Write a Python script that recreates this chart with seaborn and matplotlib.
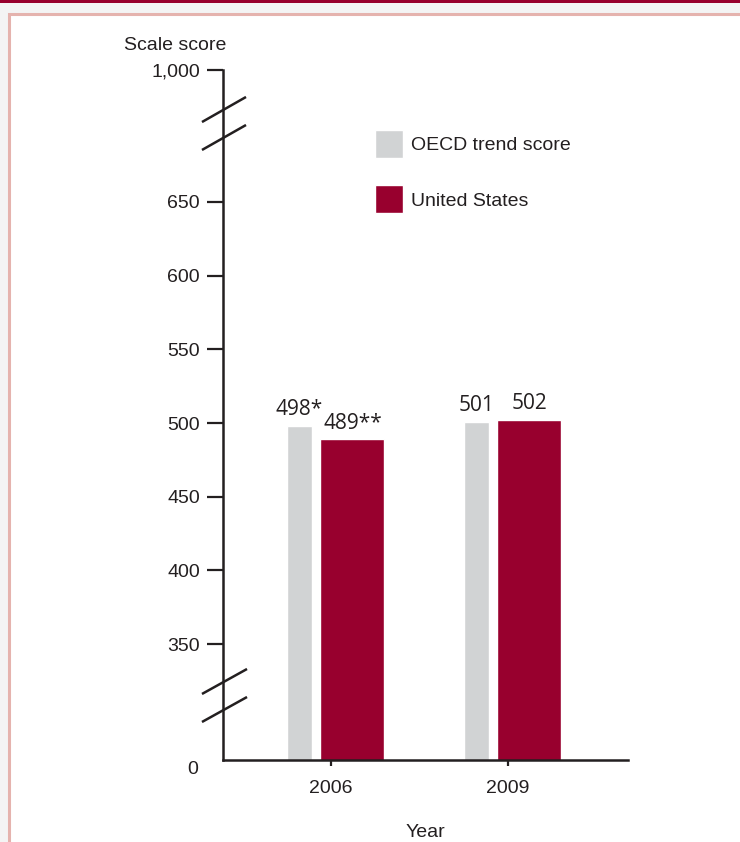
import numpy as np
import pandas as pd
import matplotlib
matplotlib.use("Agg")
import matplotlib.pyplot as plt
from matplotlib.patches import Rectangle
from matplotlib.transforms import ScaledTranslation
import seaborn as sns

# ---- data ----
years = ["2006", "2009"]
oecd_scores = [498, 501]
us_scores = [489, 502]
oecd_labels = ["498*", "501"]
us_labels = ["489**", "502"]
series_names = ["OECD trend score", "United States"]
ytick_values = [350, 400, 450, 500, 550, 600, 650]

# ---- style ----
GRAY = "#d1d3d4"
RED = "#98002e"
INK = "#231f20"
NARROW = ["Liberation Sans Narrow", "Liberation Sans", "DejaVu Sans"]
VALFONT = ["Open Sans", "DejaVu Sans"]
FS = 14

sns.set_theme(style="white")
plt.rcParams["font.family"] = NARROW
plt.rcParams["text.color"] = INK
plt.rcParams["axes.labelcolor"] = INK
plt.rcParams["xtick.color"] = INK
plt.rcParams["ytick.color"] = INK

W, H = 740, 842
fig = plt.figure(figsize=(W / 100, H / 100), dpi=100, facecolor="#f4f4f4")

# page frame (drawn beneath the axes)
fig.patches.append(Rectangle((0, 1 - 2.5 / H), 1, 2.5 / H, transform=fig.transFigure,
                             facecolor=RED, edgecolor="none", zorder=-10))
fig.patches.append(Rectangle((8.5 / W, -0.05), 1.1, 1 - 13.5 / H + 0.05, transform=fig.transFigure,
                             facecolor="white", edgecolor="#e5b3ae", linewidth=2.2, zorder=-10))

# axes box in pixels: x 223..628, y 70..760
ax = fig.add_axes([223 / W, 1 - 760 / H, 405 / W, 690 / H])
ax.set_zorder(5)
ax.set_facecolor("none")

idx = np.arange(len(years))
df_oecd = pd.DataFrame({"pos": idx - 0.178, "score": oecd_scores})
df_us = pd.DataFrame({"pos": idx + 0.121, "score": us_scores})

sns.barplot(data=df_oecd, x="pos", y="score", native_scale=True, width=0.14,
            color=GRAY, saturation=1, label=series_names[0], ax=ax, errorbar=None)
sns.barplot(data=df_us, x="pos", y="score", native_scale=True, width=0.362,
            color=RED, saturation=1, label=series_names[1], ax=ax, errorbar=None)

# value labels
for cont, labs in zip(ax.containers, [oecd_labels, us_labels]):
    ax.bar_label(cont, labels=labs, padding=4, fontsize=15, family=VALFONT, color=INK)

# broken scale: 0 sits at the bottom, 1,000 at the top
y_bottom = 350 - (760 - 644) / (442 / 300)
y_top = 650 + (202 - 70) / (442 / 300)
ax.set_ylim(y_bottom, y_top)
ax.set_xlim(-0.61, 1.678)

ax.set_yticks([y_bottom] + ytick_values + [y_top])
ax.set_yticklabels(["0"] + [str(v) for v in ytick_values] + ["1,000"])
ax.tick_params(axis="y", left=True, direction="out", length=11.5, width=1.6, pad=5, labelsize=FS)
ax.tick_params(axis="x", bottom=True, direction="out", length=4.5, width=1.6, pad=10, labelsize=FS)
ax.set_xticks(idx)
ax.set_xticklabels(years)

# the "0" label: no tick mark, shifted down a little
ticks = ax.yaxis.get_major_ticks()
ticks[0].tick1line.set_visible(False)
lab0 = ticks[0].label1
lab0.set_transform(lab0.get_transform() + ScaledTranslation(-2 / 100, -7 / 100, fig.dpi_scale_trans))

for side in ["top", "right"]:
    ax.spines[side].set_visible(False)
for side in ["left", "bottom"]:
    ax.spines[side].set_color(INK)
    ax.spines[side].set_linewidth(1.8)

ax.set_xlabel("Year", fontsize=FS, labelpad=19)
ax.set_ylabel("Scale score", fontsize=FS, rotation=0, ha="center", va="center")
ax.yaxis.set_label_coords(-0.1185, 1.035)

# axis break marks
for (x0, y0, x1, y1) in [(-0.0519, 0.9246, 0.0568, 0.9609),
                         (-0.0519, 0.8841, 0.0568, 0.9203),
                         (-0.0519, 0.0957, 0.0593, 0.1319),
                         (-0.0519, 0.0551, 0.0593, 0.0913)]:
    ax.plot([x0, x1], [y0, y1], transform=ax.transAxes, color=INK, lw=1.8,
            clip_on=False, solid_capstyle="butt")

# legend
ax.legend(loc="upper left", bbox_to_anchor=(0.375, 0.913), frameon=False,
          fontsize=FS, handlelength=1.44, handleheight=1.84, handletextpad=0.4,
          labelspacing=1.4, borderpad=0, borderaxespad=0)

ax.grid(False)
fig.savefig("out.png", dpi=100, facecolor=fig.get_facecolor())
